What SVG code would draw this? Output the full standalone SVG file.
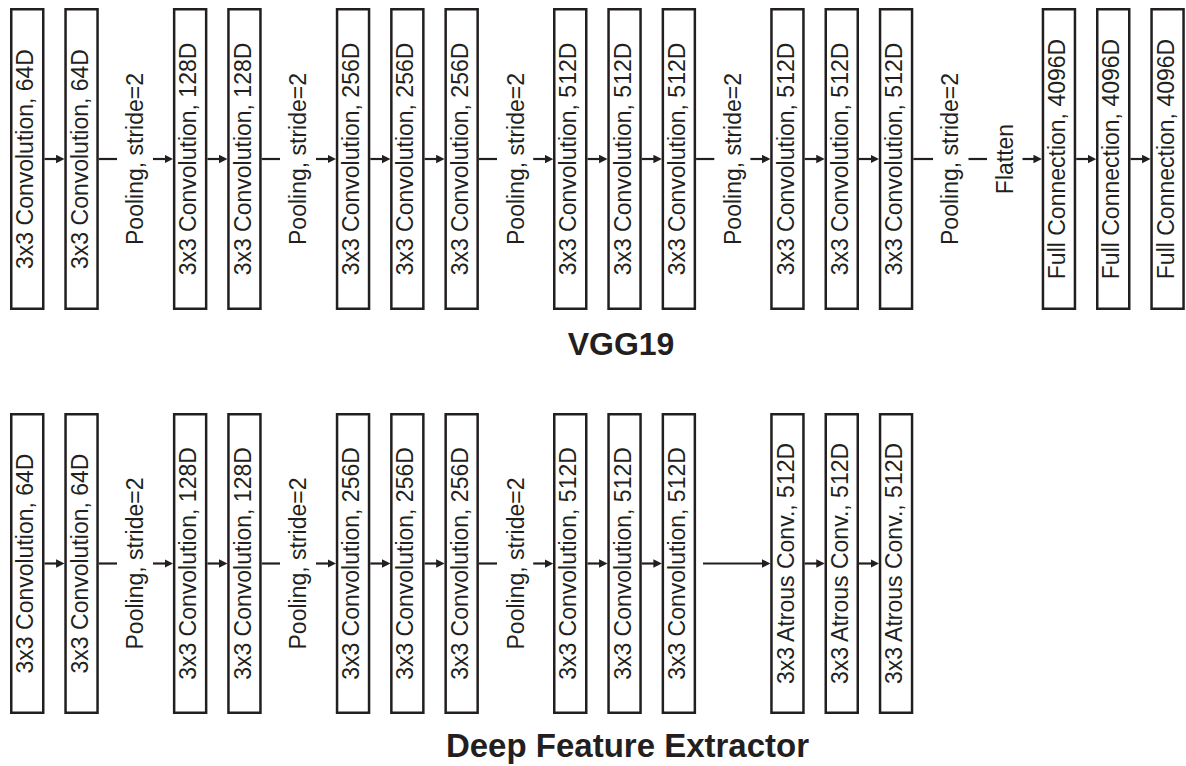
<svg xmlns="http://www.w3.org/2000/svg" width="1186" height="766" viewBox="0 0 1186 766">
<style>
.b{fill:#fff;stroke:#231f20;stroke-width:2.5}
.t{font-family:"Liberation Sans",Arial,sans-serif;font-size:23px;fill:#231f20;text-anchor:middle}
.h{font-family:"Liberation Sans",Arial,sans-serif;font-weight:bold;fill:#231f20;text-anchor:middle}
.c{stroke:#231f20;stroke-width:2.2;fill:none}
.a{marker-end:url(#ah)}
</style>
<defs>
<marker id="ah" markerUnits="userSpaceOnUse" viewBox="0 0 10 10" markerWidth="8.5" markerHeight="9" refX="5" refY="5" orient="auto">
<path d="M0,0 L10,5 L0,10 z" fill="#231f20"/>
</marker>
</defs>
<rect width="1186" height="766" fill="#fff"/>
<g id="connectors">
<line class="c a" x1="44.5" y1="159" x2="60.3" y2="159"/>
<line class="c" x1="98.8" y1="159" x2="117" y2="159"/>
<line class="c a" x1="153" y1="159" x2="168.9" y2="159"/>
<line class="c a" x1="207.4" y1="159" x2="223.2" y2="159"/>
<line class="c" x1="261.7" y1="159" x2="280" y2="159"/>
<line class="c a" x1="316" y1="159" x2="331.8" y2="159"/>
<line class="c a" x1="370.3" y1="159" x2="386.1" y2="159"/>
<line class="c a" x1="424.6" y1="159" x2="440.4" y2="159"/>
<line class="c" x1="478.9" y1="159" x2="497" y2="159"/>
<line class="c a" x1="533.2" y1="159" x2="549" y2="159"/>
<line class="c a" x1="587.5" y1="159" x2="603.3" y2="159"/>
<line class="c a" x1="641.8" y1="159" x2="657.6" y2="159"/>
<line class="c" x1="696.1" y1="159" x2="714.3" y2="159"/>
<line class="c a" x1="750.4" y1="159" x2="766.2" y2="159"/>
<line class="c a" x1="804.7" y1="159" x2="820.5" y2="159"/>
<line class="c a" x1="859" y1="159" x2="874.8" y2="159"/>
<line class="c" x1="913.3" y1="159" x2="933" y2="159"/>
<line class="c" x1="968.5" y1="159" x2="987" y2="159"/>
<line class="c a" x1="1022.5" y1="159" x2="1037.7" y2="159"/>
<line class="c a" x1="1076.2" y1="159" x2="1092" y2="159"/>
<line class="c a" x1="1130.5" y1="159" x2="1146.3" y2="159"/>
<line class="c a" x1="44.5" y1="563.5" x2="60.3" y2="563.5"/>
<line class="c" x1="98.8" y1="563.5" x2="117" y2="563.5"/>
<line class="c a" x1="153" y1="563.5" x2="168.9" y2="563.5"/>
<line class="c a" x1="207.4" y1="563.5" x2="223.2" y2="563.5"/>
<line class="c" x1="261.7" y1="563.5" x2="280" y2="563.5"/>
<line class="c a" x1="316" y1="563.5" x2="331.8" y2="563.5"/>
<line class="c a" x1="370.3" y1="563.5" x2="386.1" y2="563.5"/>
<line class="c a" x1="424.6" y1="563.5" x2="440.4" y2="563.5"/>
<line class="c" x1="478.9" y1="563.5" x2="497" y2="563.5"/>
<line class="c a" x1="533.2" y1="563.5" x2="549" y2="563.5"/>
<line class="c a" x1="587.5" y1="563.5" x2="603.3" y2="563.5"/>
<line class="c a" x1="641.8" y1="563.5" x2="657.6" y2="563.5"/>
<line class="c a" x1="703" y1="563.5" x2="766.2" y2="563.5"/>
<line class="c a" x1="804.7" y1="563.5" x2="820.5" y2="563.5"/>
<line class="c a" x1="859" y1="563.5" x2="874.8" y2="563.5"/>
</g>

<g id="v1"><rect class="b" x="11.25" y="9.25" width="32" height="299.5"/><text class="t" transform="translate(33.3,159) rotate(-90)">3x3 Convolution, 64D</text></g>
<g id="v2"><rect class="b" x="65.55" y="9.25" width="32" height="299.5"/><text class="t" transform="translate(87.6,159) rotate(-90)">3x3 Convolution, 64D</text></g>
<g id="vp1"><text class="t" transform="translate(143.4,159) rotate(-90)">Pooling, stride=2</text></g>
<g id="v3"><rect class="b" x="174.15" y="9.25" width="32" height="299.5"/><text class="t" transform="translate(196.2,159) rotate(-90)">3x3 Convolution, 128D</text></g>
<g id="v4"><rect class="b" x="228.45" y="9.25" width="32" height="299.5"/><text class="t" transform="translate(250.5,159) rotate(-90)">3x3 Convolution, 128D</text></g>
<g id="vp2"><text class="t" transform="translate(306.3,159) rotate(-90)">Pooling, stride=2</text></g>
<g id="v5"><rect class="b" x="337.05" y="9.25" width="32" height="299.5"/><text class="t" transform="translate(359.1,159) rotate(-90)">3x3 Convolution, 256D</text></g>
<g id="v6"><rect class="b" x="391.35" y="9.25" width="32" height="299.5"/><text class="t" transform="translate(413.4,159) rotate(-90)">3x3 Convolution, 256D</text></g>
<g id="v7"><rect class="b" x="445.65" y="9.25" width="32" height="299.5"/><text class="t" transform="translate(467.7,159) rotate(-90)">3x3 Convolution, 256D</text></g>
<g id="vp3"><text class="t" transform="translate(523.5,159) rotate(-90)">Pooling, stride=2</text></g>
<g id="v8"><rect class="b" x="554.25" y="9.25" width="32" height="299.5"/><text class="t" transform="translate(576.3,159) rotate(-90)">3x3 Convolution, 512D</text></g>
<g id="v9"><rect class="b" x="608.55" y="9.25" width="32" height="299.5"/><text class="t" transform="translate(630.6,159) rotate(-90)">3x3 Convolution, 512D</text></g>
<g id="v10"><rect class="b" x="662.85" y="9.25" width="32" height="299.5"/><text class="t" transform="translate(684.9,159) rotate(-90)">3x3 Convolution, 512D</text></g>
<g id="vp4"><text class="t" transform="translate(740.6,159) rotate(-90)">Pooling, stride=2</text></g>
<g id="v11"><rect class="b" x="771.45" y="9.25" width="32" height="299.5"/><text class="t" transform="translate(793.5,159) rotate(-90)">3x3 Convolution, 512D</text></g>
<g id="v12"><rect class="b" x="825.75" y="9.25" width="32" height="299.5"/><text class="t" transform="translate(847.8,159) rotate(-90)">3x3 Convolution, 512D</text></g>
<g id="v13"><rect class="b" x="880.05" y="9.25" width="32" height="299.5"/><text class="t" transform="translate(902.1,159) rotate(-90)">3x3 Convolution, 512D</text></g>
<g id="vp5"><text class="t" transform="translate(958,159) rotate(-90)">Pooling, stride=2</text></g>
<g id="vf"><text class="t" transform="translate(1012.6,159) rotate(-90)">Flatten</text></g>
<g id="fc1"><rect class="b" x="1042.95" y="9.25" width="32" height="299.5"/><text class="t" transform="translate(1065,159) rotate(-90)">Full Connection, 4096D</text></g>
<g id="fc2"><rect class="b" x="1097.25" y="9.25" width="32" height="299.5"/><text class="t" transform="translate(1119.3,159) rotate(-90)">Full Connection, 4096D</text></g>
<g id="fc3"><rect class="b" x="1151.55" y="9.25" width="32" height="299.5"/><text class="t" transform="translate(1173.6,159) rotate(-90)">Full Connection, 4096D</text></g>
<g id="title1"><text class="h" x="621" y="355" font-size="32">VGG19</text></g>

<g id="d1"><rect class="b" x="11.25" y="414.25" width="32" height="298.5"/><text class="t" transform="translate(33.3,563.5) rotate(-90)">3x3 Convolution, 64D</text></g>
<g id="d2"><rect class="b" x="65.55" y="414.25" width="32" height="298.5"/><text class="t" transform="translate(87.6,563.5) rotate(-90)">3x3 Convolution, 64D</text></g>
<g id="dp1"><text class="t" transform="translate(143.4,563.5) rotate(-90)">Pooling, stride=2</text></g>
<g id="d3"><rect class="b" x="174.15" y="414.25" width="32" height="298.5"/><text class="t" transform="translate(196.2,563.5) rotate(-90)">3x3 Convolution, 128D</text></g>
<g id="d4"><rect class="b" x="228.45" y="414.25" width="32" height="298.5"/><text class="t" transform="translate(250.5,563.5) rotate(-90)">3x3 Convolution, 128D</text></g>
<g id="dp2"><text class="t" transform="translate(306.3,563.5) rotate(-90)">Pooling, stride=2</text></g>
<g id="d5"><rect class="b" x="337.05" y="414.25" width="32" height="298.5"/><text class="t" transform="translate(359.1,563.5) rotate(-90)">3x3 Convolution, 256D</text></g>
<g id="d6"><rect class="b" x="391.35" y="414.25" width="32" height="298.5"/><text class="t" transform="translate(413.4,563.5) rotate(-90)">3x3 Convolution, 256D</text></g>
<g id="d7"><rect class="b" x="445.65" y="414.25" width="32" height="298.5"/><text class="t" transform="translate(467.7,563.5) rotate(-90)">3x3 Convolution, 256D</text></g>
<g id="dp3"><text class="t" transform="translate(523.5,563.5) rotate(-90)">Pooling, stride=2</text></g>
<g id="d8"><rect class="b" x="554.25" y="414.25" width="32" height="298.5"/><text class="t" transform="translate(576.3,563.5) rotate(-90)">3x3 Convolution, 512D</text></g>
<g id="d9"><rect class="b" x="608.55" y="414.25" width="32" height="298.5"/><text class="t" transform="translate(630.6,563.5) rotate(-90)">3x3 Convolution, 512D</text></g>
<g id="d10"><rect class="b" x="662.85" y="414.25" width="32" height="298.5"/><text class="t" transform="translate(684.9,563.5) rotate(-90)">3x3 Convolution, 512D</text></g>
<g id="a1"><rect class="b" x="771.45" y="414.25" width="32" height="298.5"/><text class="t" transform="translate(793.5,563.5) rotate(-90)">3x3 Atrous Conv., 512D</text></g>
<g id="a2"><rect class="b" x="825.75" y="414.25" width="32" height="298.5"/><text class="t" transform="translate(847.8,563.5) rotate(-90)">3x3 Atrous Conv., 512D</text></g>
<g id="a3"><rect class="b" x="880.05" y="414.25" width="32" height="298.5"/><text class="t" transform="translate(902.1,563.5) rotate(-90)">3x3 Atrous Conv., 512D</text></g>
<g id="title2"><text class="h" x="627.5" y="757" font-size="33">Deep Feature Extractor</text></g>
</svg>
